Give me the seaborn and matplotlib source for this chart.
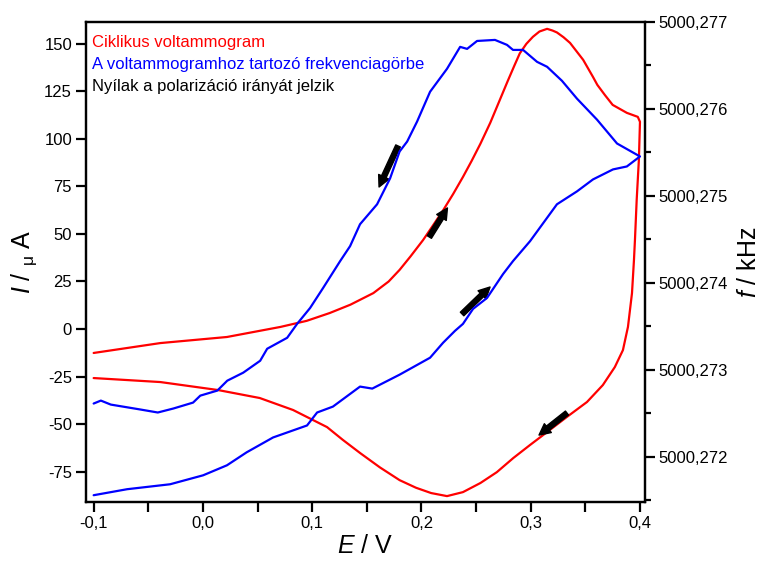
import numpy as np
import pandas as pd
import matplotlib
matplotlib.use("Agg")
import matplotlib.pyplot as plt
import matplotlib.ticker as mticker
import seaborn as sns

# ---- data ----
# Cyclic voltammogram, forward (anodic) branch
cv_fwd_E = [-0.100, -0.039, 0.022, 0.071, 0.095, 0.116, 0.135, 0.156, 0.170, 0.180,
            0.190, 0.2015, 0.210, 0.220, 0.229, 0.238, 0.246, 0.254, 0.263, 0.271,
            0.279, 0.285, 0.290, 0.296, 0.302, 0.308, 0.315, 0.320, 0.324, 0.330,
            0.336, 0.348, 0.357, 0.361, 0.368, 0.375, 0.388, 0.398, 0.400]
cv_fwd_I = [-12.6, -7.4, -4.2, 1.1, 4.3, 8.4, 12.8, 18.9, 25.0, 31.1,
            38.2, 46.8, 54.0, 62.6, 71.0, 80.0, 88.5, 97.5, 108.5, 119.5,
            130.5, 138.5, 145.0, 150.0, 153.7, 156.5, 157.9, 157.0, 156.0, 153.5,
            150.5, 141.6, 132.6, 128.4, 123.0, 117.9, 113.7, 111.6, 109.0]
# Cyclic voltammogram, reverse (cathodic) branch
cv_rev_E = [0.400, 0.399, 0.397, 0.3954, 0.3945, 0.3927, 0.389, 0.3844, 0.377, 0.366,
            0.3515, 0.333, 0.315, 0.2994, 0.284, 0.269, 0.254, 0.238, 0.2234, 0.2089,
            0.195, 0.180, 0.162, 0.144, 0.128, 0.1136, 0.0825, 0.052, 0.0138, -0.039,
            -0.100]
cv_rev_I = [109.0, 89.0, 68.0, 46.8, 36.3, 18.9, 1.1, -11.1, -20.0, -29.5,
            -38.4, -46.3, -54.2, -61.0, -67.9, -75.3, -81.0, -85.8, -87.9, -86.3,
            -83.5, -79.5, -72.8, -65.3, -58.3, -51.6, -42.6, -36.3, -32.1, -27.9,
            -25.8]

# Frequency curve (kHz), forward branch
fq_fwd_E = [-0.100, -0.0694, -0.030, 0.0002, 0.022, 0.040, 0.0642, 0.0953, 0.1045, 0.119,
            0.1438, 0.155, 0.180, 0.2079, 0.2198, 0.2307, 0.238, 0.2472, 0.260, 0.2747,
            0.2838, 0.2994, 0.324, 0.3424, 0.357, 0.3753, 0.388, 0.400]
fq_fwd_f = [5000.271559, 5000.271628, 5000.271685, 5000.271788, 5000.271903, 5000.272052,
            5000.272223, 5000.272361, 5000.272510, 5000.272578, 5000.272808, 5000.272785,
            5000.272945, 5000.273140, 5000.273312, 5000.273449, 5000.273529, 5000.273701,
            5000.273827, 5000.274102, 5000.274251, 5000.274480, 5000.274904, 5000.275053,
            5000.275190, 5000.275305, 5000.275339, 5000.275454]
# Frequency curve (kHz), reverse branch
fq_rev_E = [0.400, 0.379, 0.3607, 0.3424, 0.3286, 0.315, 0.3058, 0.293, 0.2838, 0.2783,
            0.2673, 0.2509, 0.2418, 0.2354, 0.2234, 0.2079, 0.196, 0.1869, 0.180, 0.1713,
            0.1594, 0.1438, 0.1347, 0.1256, 0.110, 0.0981, 0.0862, 0.0771, 0.0588, 0.0524,
            0.0369, 0.0223, 0.0132, -0.0024, -0.009, -0.027, -0.0413, -0.057, -0.0843,
            -0.0934, -0.100]
fq_rev_f = [5000.275454, 5000.275603, 5000.275877, 5000.276118, 5000.276324, 5000.276485,
            5000.276542, 5000.276679, 5000.276679, 5000.276737, 5000.276794, 5000.276782,
            5000.276691, 5000.276714, 5000.276462, 5000.276198, 5000.275855, 5000.275625,
            5000.275511, 5000.275202, 5000.274904, 5000.274675, 5000.274423, 5000.274251,
            5000.273942, 5000.273712, 5000.273529, 5000.273369, 5000.273243, 5000.273105,
            5000.272968, 5000.272876, 5000.272762, 5000.272704, 5000.272624, 5000.272556,
            5000.272510, 5000.272544, 5000.272601, 5000.272647, 5000.272613]

x_ticks = [-0.1, 0.0, 0.1, 0.2, 0.3, 0.4]
y_ticks = [-75, -50, -25, 0, 25, 50, 75, 100, 125, 150]
f_ticks = [5000.272, 5000.273, 5000.274, 5000.275, 5000.276, 5000.277]

legend_texts = ["Ciklikus voltammogram",
                "A voltammogramhoz tartozó frekvenciagörbe",
                "Nyílak a polarizáció irányát jelzik"]

# ---- styling ----
sns.set_theme(style="ticks")
plt.rcParams["font.family"] = ["Liberation Sans", "DejaVu Sans"]
plt.rcParams["mathtext.fontset"] = "custom"
plt.rcParams["mathtext.rm"] = "Liberation Sans"
plt.rcParams["mathtext.it"] = "Liberation Sans:italic"
plt.rcParams["axes.unicode_minus"] = False

RED = "#ff0000"
BLUE = "#0000ff"

cv = pd.DataFrame({
    "E": cv_fwd_E + cv_rev_E,
    "I": cv_fwd_I + cv_rev_I,
})
fq = pd.DataFrame({
    "E": fq_fwd_E + fq_rev_E,
    "f": fq_fwd_f + fq_rev_f,
})

fig = plt.figure(figsize=(7.62, 5.64), dpi=100)
ax = fig.add_axes([86 / 762, 1 - 502 / 564, (645 - 86) / 762, (502 - 22) / 564])
ax2 = ax.twinx()

sns.lineplot(data=cv, x="E", y="I", sort=False, estimator=None, ax=ax,
             color=RED, linewidth=1.6)
sns.lineplot(data=fq, x="E", y="f", sort=False, estimator=None, ax=ax2,
             color=BLUE, linewidth=1.6)

ax.set_xlim(-0.107, 0.4046)
ax.set_ylim(-91, 161.5)
ax2.set_ylim(5000.271481, 5000.276977)

ax.set_xticks(x_ticks)
ax.xaxis.set_minor_locator(mticker.MultipleLocator(0.05))
ax.set_yticks(y_ticks)
ax2.set_yticks(f_ticks)
ax2.yaxis.set_minor_locator(mticker.MultipleLocator(0.0005))

ax.xaxis.set_major_formatter(mticker.FuncFormatter(lambda v, p: f"{v:.1f}".replace(".", ",").replace("-0,0", "0,0")))
ax.yaxis.set_major_formatter(mticker.FuncFormatter(lambda v, p: f"{v:.0f}"))
ax2.yaxis.set_major_formatter(mticker.FuncFormatter(lambda v, p: f"{v:.3f}".replace(".", ",")))

for a in (ax, ax2):
    for s in a.spines.values():
        s.set_linewidth(1.6)
        s.set_color("black")
ax.tick_params(axis="both", which="major", direction="out", length=7, width=1.6,
               labelsize=12, color="black", labelcolor="black", pad=3)
ax.tick_params(axis="x", which="minor", direction="out", length=7, width=1.6, color="black")
ax2.tick_params(axis="y", which="major", direction="out", length=7, width=1.6,
                labelsize=12, color="black", labelcolor="black", pad=3)
ax2.tick_params(axis="y", which="minor", direction="out", length=4.5, width=1.6, color="black")

ax.set_xlabel(r"$E$ / V", fontsize=18, labelpad=2, color="black")
ax.set_ylabel(r"$I$ / $_{\mathrm{\mu}}$ A", fontsize=18, labelpad=4, color="black")
ax2.set_ylabel(r"$f$ / kHz", fontsize=18, labelpad=6, color="black")

# direction arrows (in I/E coordinates)
arrows = [((0.1786, 96.3), (0.1612, 74.7)),
          ((0.2072, 48.4), (0.2238, 63.7)),
          ((0.2372, 7.9), (0.2628, 22.1)),
          ((0.3332, -44.2), (0.3076, -55.8))]
for tail, head in arrows:
    ax.annotate("", xy=head, xytext=tail, xycoords="data", textcoords="data",
                arrowprops=dict(arrowstyle="simple,head_width=0.9,head_length=0.9,tail_width=0.4",
                                color="black", mutation_scale=9, shrinkA=0, shrinkB=0))

colors = [RED, BLUE, "black"]
ys = [0.958, 0.9125, 0.8646]
for t, c, yy in zip(legend_texts, colors, ys):
    ax.text(0.011, yy, t, color=c, fontsize=12, transform=ax.transAxes,
            ha="left", va="center")

ax.grid(False)
ax2.grid(False)
fig.savefig("out.png", dpi=100)
